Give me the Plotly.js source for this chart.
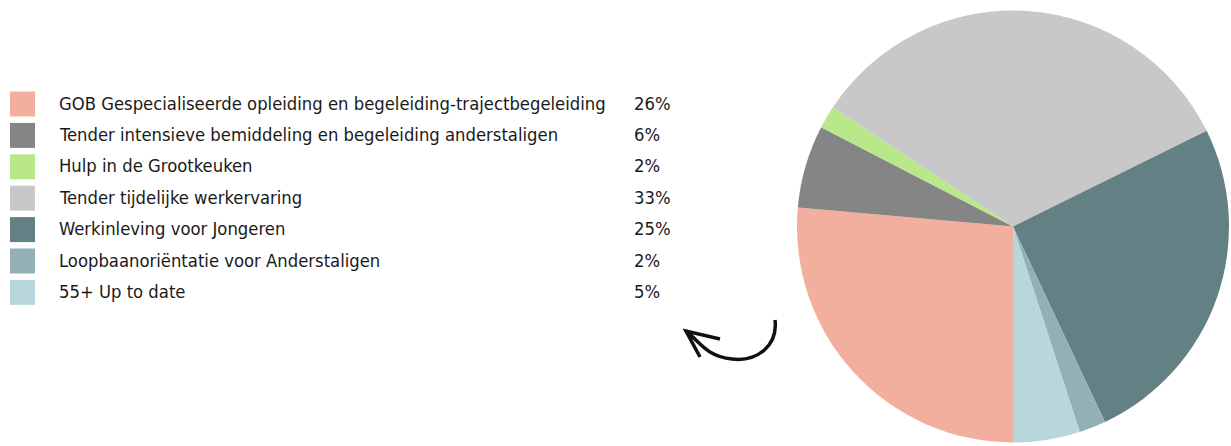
<!DOCTYPE html>
<html>
<head>
<meta charset="utf-8">
<script src="https://cdn.plot.ly/plotly-3.0.1.min.js"></script>
<style>
  html, body { margin: 0; padding: 0; background: #fff; }
  #plot { width: 1231px; height: 446px; }
</style>
</head>
<body>
<div id="plot"></div>
<script>
// pie data (shares in %), legend order = clockwise from 6 o'clock
let labels = [
  'GOB Gespecialiseerde opleiding en begeleiding-trajectbegeleiding',
  'Tender intensieve bemiddeling en begeleiding anderstaligen',
  'Hulp in de Grootkeuken',
  'Tender tijdelijke werkervaring',
  'Werkinleving voor Jongeren',
  'Loopbaanoriëntatie voor Anderstaligen',
  '55+ Up to date'
];
let values = [26.4, 6.2, 1.7, 33.4, 25.3, 2.0, 5.0];
let colors = ['#f2af9e', '#858585', '#b8e88a', '#c8c8c8', '#638084', '#93b0b5', '#b8d7dd'];

const W = 1231, H = 446;
const px = x => x / W;
const py = y => 1 - y / H;

let font = {family: "'DejaVu Sans Condensed', sans-serif", size: 18.3, color: '#1a1a1a'};
let total = values.reduce((a, b) => a + b, 0);

let annotations = [];
let shapes = [];
labels.forEach((lab, i) => {
  let yc = 104 + i * 31.4;
  shapes.push({
    type: 'rect', xref: 'paper', yref: 'paper',
    x0: px(10), x1: px(35), y0: py(yc - 12.5), y1: py(yc + 12.5),
    fillcolor: colors[i], line: {width: 0}
  });
  annotations.push({
    xref: 'paper', yref: 'paper', x: px(57), y: py(yc - 1),
    xanchor: 'left', yanchor: 'middle', showarrow: false,
    text: lab, font: font
  });
  annotations.push({
    xref: 'paper', yref: 'paper', x: px(632), y: py(yc - 1),
    xanchor: 'left', yanchor: 'middle', showarrow: false,
    text: Math.round(values[i] / total * 100) + '%', font: font
  });
});

// hand-drawn curved arrow
let arrowPts = `M ${px(775)} ${py(320)} C ${px(778)} ${py(345)} ${px(758)} ${py(362)} ${px(732)} ${py(359)} S ${px(700)} ${py(342)} ${px(686)} ${py(331)}`;
shapes.push({type: 'path', xref: 'paper', yref: 'paper', path: arrowPts, line: {color: '#111', width: 3.5}});
shapes.push({type: 'path', xref: 'paper', yref: 'paper',
  path: `M ${px(720)} ${py(339)} L ${px(686)} ${py(331)} L ${px(700)} ${py(357)}`,
  line: {color: '#111', width: 3.5}});

let trace = {
  type: 'pie',
  labels: labels,
  values: values,
  marker: {colors: colors, line: {width: 0}},
  sort: false,
  direction: 'clockwise',
  rotation: 180,
  textinfo: 'none',
  hoverinfo: 'label+percent',
  showlegend: false,
  domain: {x: [797 / W, 1229 / W], y: [3 / H, 436 / H]}
};

let layout = {
  width: W,
  height: H,
  margin: {l: 0, r: 0, t: 0, b: 0},
  paper_bgcolor: '#fff',
  showlegend: false,
  shapes: shapes,
  annotations: annotations
};

Plotly.newPlot('plot', [trace], layout, {displayModeBar: false, staticPlot: true});
</script>
</body>
</html>
